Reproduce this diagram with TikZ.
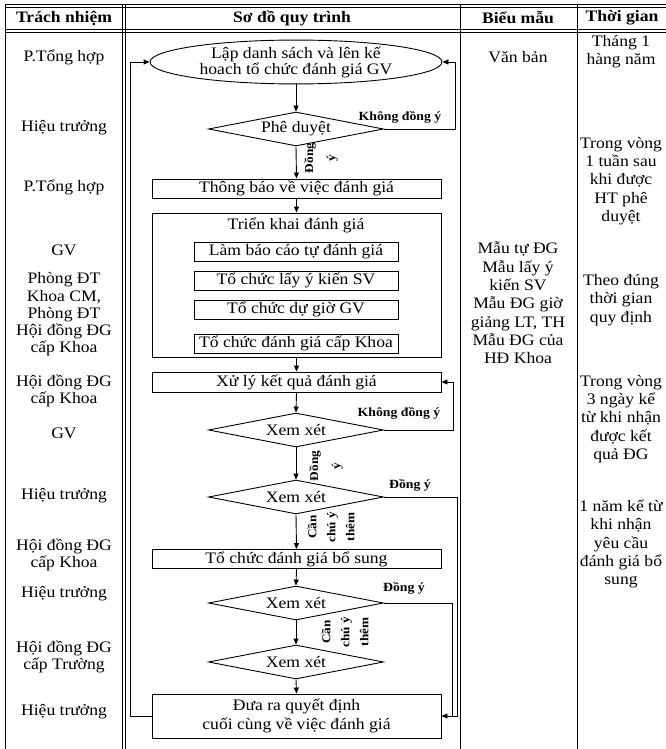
\documentclass[tikz,border=0pt]{standalone}
\usepackage{fontspec}
\setmainfont{Liberation Serif}[FakeStretch=1.1]
\usetikzlibrary{shapes.geometric,arrows.meta,positioning}

\tikzset{
  proc/.style={draw, minimum width=289pt, minimum height=19pt, inner sep=0pt},
  subproc/.style={draw, minimum width=204pt, minimum height=19pt, inner sep=0pt},
  decision/.style={draw, diamond, aspect=5, inner sep=0pt, minimum width=175pt, minimum height=34pt},
  head/.style={font=\fontsize{16}{18}\selectfont\bfseries},
  col/.style={align=center, inner sep=0pt},
  resp/.style={col, font=\fontsize{16}{16.5}\selectfont},
  tag/.style={inner sep=0pt, font=\fontsize{12.5}{14}\selectfont\bfseries},
  vtag/.style={inner sep=0pt, rotate=90, align=center, font=\fontsize{12}{19}\selectfont\bfseries},
}

\begin{document}
\begin{tikzpicture}[x=1pt, y=-1pt, line width=0.9pt, >={Triangle[length=6pt,width=5pt]},
  font=\fontsize{16}{18.3}\selectfont]
\useasboundingbox (0,0) rectangle (665,749);

% table frame
\draw (5,4) -- (680,4);
\draw (5,7) -- (680,7);
\draw (5,29) -- (680,29);
\draw (5,32) -- (680,32);
\draw (5,4) -- (5,760);
\draw (122,4) -- (122,760);
\draw (125.5,4) -- (125.5,760);
\draw (460,4) -- (460,760);
\draw (577,4) -- (577,760);

\node[head] (h1) at (64,18) {Trách nhiệm};
\node[head] (h2) at (292,18) {Sơ đồ quy trình};
\node[head] (h3) at (518,18) {Biểu mẫu};
\node[head] (h4) at (622,18) {Thời gian};

% responsibility column
\foreach \y/\t [count=\i] in {57/P.Tổng hợp, 128/Hiệu trưởng, 187/P.Tổng hợp, 250/GV,
    280/Phòng ĐT, 306/{Khoa CM,\\Phòng ĐT}, 340/{Hội đồng ĐG\\cấp Khoa},
    391/{Hội đồng ĐG\\cấp Khoa}, 433/GV, 496/Hiệu trưởng, 555/{Hội đồng ĐG\\cấp Khoa},
    594/Hiệu trưởng, 657/{Hội đồng ĐG\\cấp Trường}, 712/Hiệu trưởng}
  \node[resp] (resp\i) at (64,\y) {\t};

% forms column
\node[col] (form1) at (518,57) {Văn bản};
\node[col] (form2) at (518,303) {Mẫu tự ĐG\\Mẫu lấy ý\\kiến SV\\Mẫu ĐG giờ\\giảng LT, TH\\Mẫu ĐG của\\HĐ Khoa};

% time column
\node[col] (time1) at (621,52) {Tháng 1\\hàng năm};
\node[col] (time2) at (621,181) {Trong vòng\\1 tuần sau\\khi được\\HT phê\\duyệt};
\node[col] (time3) at (621,300) {Theo đúng\\thời gian\\quy định};
\node[col] (time4) at (621,419) {Trong vòng\\3 ngày kể\\từ khi nhận\\được kết\\quả ĐG};
\node[col] (time5) at (621,544) {1 năm kể từ\\khi nhận\\yêu cầu\\đánh giá bổ\\sung};

% flowchart
\node[draw, ellipse, minimum width=292pt, minimum height=40pt, inner sep=0pt, align=center,
  font=\fontsize{16}{16}\selectfont] (plan) at (296,62) {Lập danh sách và lên kế\\hoach tổ chức đánh giá GV};
\node[decision] (approve) at (296,129) {Phê duyệt};
\node[proc] (notify) at (296.5,188.5) {Thông báo về việc đánh giá};
\node[draw, minimum width=289pt, minimum height=144pt, inner sep=0pt] (deploy) at (296.5,285) {};
\node (deploytitle) at (296,225) {Triển khai đánh giá};
\node[subproc] (task1) at (296,251.5) {Làm báo cáo tự đánh giá};
\node[subproc] (task2) at (296,280.5) {Tổ chức lấy ý kiến SV};
\node[subproc] (task3) at (296,309.5) {Tổ chức dự giờ GV};
\node[subproc] (task4) at (296,343.5) {Tổ chức đánh giá cấp Khoa};
\node[proc, minimum height=20pt] (handle) at (296.5,382) {Xử lý kết quả đánh giá};
\node[decision] (check1) at (296,430) {Xem xét};
\node[decision] (check2) at (296,497) {Xem xét};
\node[proc] (extra) at (296.5,559) {Tổ chức đánh giá bổ sung};
\node[decision] (check3) at (296,603) {Xem xét};
\node[decision] (check4) at (296,662) {Xem xét};
\node[proc, minimum height=44pt, align=center] (decide) at (296.5,716) {Đưa ra quyết định\\cuối cùng về việc đánh giá};

\draw[->] (plan.south) -- (approve.north);
\draw[->] (approve.south) -- (notify.north);
\draw[->] (notify.south) -- (deploy.north);
\draw[->] (deploy.south) -- (handle.north);
\draw[->] (handle.south) -- (check1.north);
\draw[->] (check1.south) -- (check2.north);
\draw[->] (check2.south) -- (extra.north);
\draw[->] (extra.south) -- (check3.north);
\draw[->] (check3.south) -- (check4.north);
\draw[->] (check4.south) -- (decide.north);

% return lines
\coordinate (railL) at (130,0);
\coordinate (railA) at (455,0);
\coordinate (railB) at (453,0);
\coordinate (railC) at (457,0);
\coordinate (railD) at (452,0);
\draw[->] (approve.east) -- (approve.east -| railA) -- (plan.east -| railA) -- (plan.east);
\draw[->] (decide.west) -- (decide.west -| railL) -- (plan.west -| railL) -- (plan.west);
\draw[->] (check1.east) -- (check1.east -| railB) -- (handle.east -| railB) -- (handle.east);
\draw[->] (check2.east) -- (check2.east -| railC) -- (decide.east -| railC) -- (decide.east);
\draw (check3.east) -- (check3.east -| railD) -- (decide.east -| railD);

% branch labels
\node[tag] (no1) at (400,117) {Không đồng ý};
\node[tag] (no2) at (399,413) {Không đồng ý};
\node[tag] (yes3) at (410,485) {Đồng ý};
\node[tag] (yes4) at (404,588) {Đồng ý};
\node[vtag] (yes1) at (321,158) {Đồng\\[3pt]ý};
\node[vtag] (yes2) at (326,466) {Đồng\\[3pt]ý};
\node[vtag] (more1) at (331,527) {Cần\\chú ý\\thêm};
\node[vtag] (more2) at (345,632) {Cần\\chú ý\\thêm};
\end{tikzpicture}
\end{document}
